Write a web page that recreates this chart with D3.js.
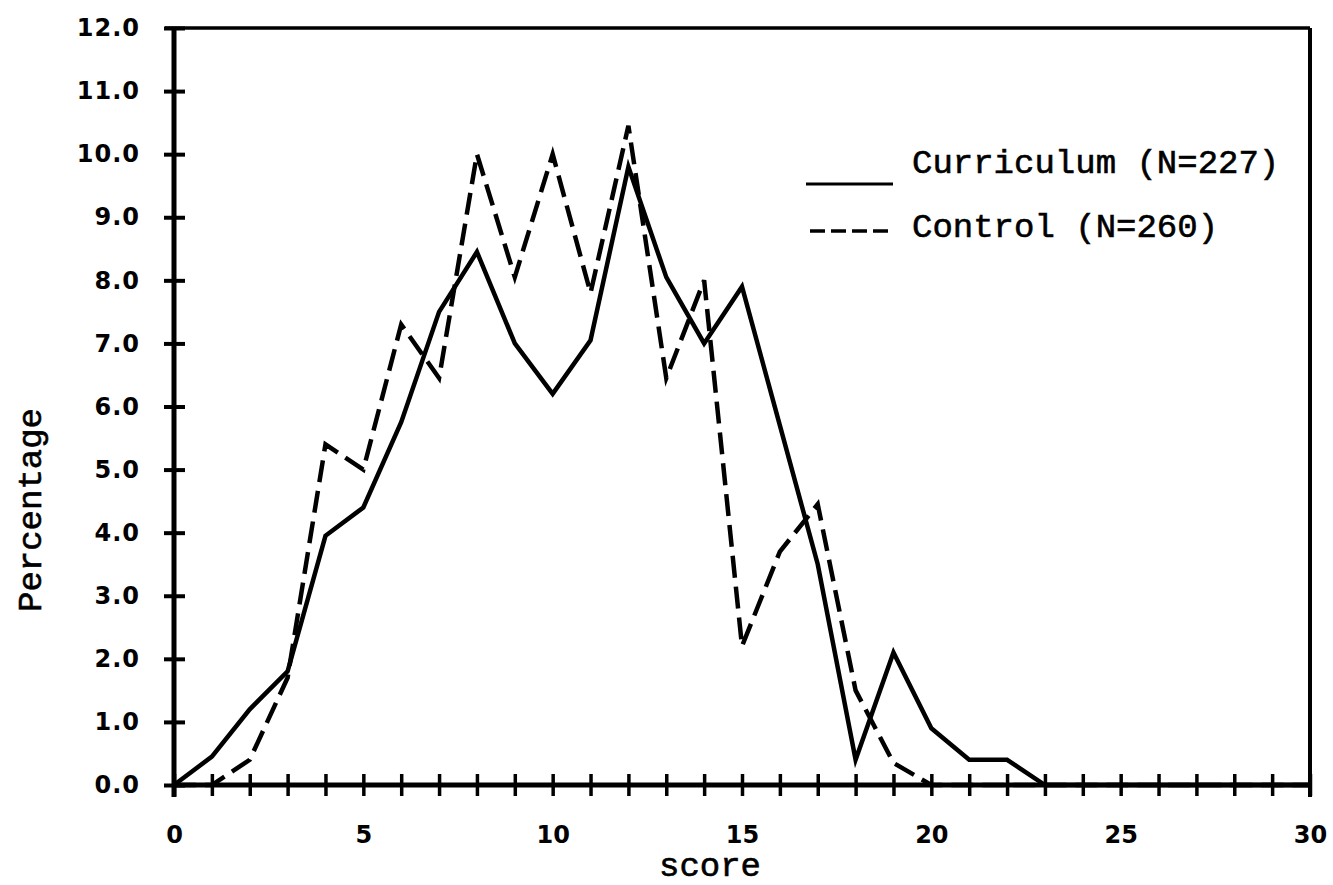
<!DOCTYPE html>
<html>
<head>
<meta charset="utf-8">
<script src="https://cdn.jsdelivr.net/npm/d3@7"></script>
<style>
  body { margin: 0; background: #fff; }
  .tick text { font-family: "DejaVu Sans", sans-serif; font-weight: bold; fill: #000; }
  .mono { font-family: "Liberation Mono", monospace; fill: #000; stroke: #000; stroke-width: 0.6px; }
</style>
</head>
<body>
<script>
var w = 1333;
var h = 885;
var margin = { top: 28, right: 23, bottom: 100, left: 174 };
var width = w - margin.left - margin.right;
var height = h - margin.top - margin.bottom;

// score values along the x axis
var scores = [0, 1, 2, 3, 4, 5, 6, 7, 8, 9, 10, 11, 12, 13, 14, 15,
              16, 17, 18, 19, 20, 21, 22, 23, 24, 25, 26, 27, 28, 29, 30];
// percentage of each group at each score
var curriculum = [0, 0.45, 1.2, 1.8, 3.95, 4.4, 5.75, 7.5, 8.45, 7.0, 6.2, 7.05, 9.8, 8.05, 7.0, 7.9,
                  5.7, 3.5, 0.4, 2.1, 0.9, 0.4, 0.4, 0, 0, 0, 0, 0, 0, 0, 0];
var control = [0, 0, 0.4, 1.7, 5.4, 5.0, 7.3, 6.45, 10.0, 8.05, 10.0, 7.8, 10.45, 6.45, 8.0, 2.2,
               3.7, 4.45, 1.5, 0.35, 0, 0, 0, 0, 0, 0, 0, 0, 0, 0, 0];
var yTicks = [0, 1, 2, 3, 4, 5, 6, 7, 8, 9, 10, 11, 12];
var xLabels = [0, 5, 10, 15, 20, 25, 30];
var legendNames = ['Curriculum (N=227)', 'Control (N=260)'];

var svg = d3.select('body').append('svg')
            .attr('width', w)
            .attr('height', h);
var chart = svg.append('g')
               .attr('transform', 'translate(' + margin.left + ',' + margin.top + ')');

var x = d3.scaleLinear().domain([0, 30]).range([0, width]);
var y = d3.scaleLinear().domain([0, 12]).range([height, 0]);

// frame: top and right edges
chart.append('line')
     .attr('x1', -9).attr('x2', width)
     .attr('y1', 0).attr('y2', 0)
     .attr('stroke', '#000').attr('stroke-width', 3.5);
chart.append('line')
     .attr('x1', width).attr('x2', width)
     .attr('y1', 0).attr('y2', height + 12)
     .attr('stroke', '#000').attr('stroke-width', 4);

var xAxis = d3.axisBottom(x)
              .tickValues(scores)
              .tickSize(11)
              .tickPadding(30)
              .tickFormat(function(d){
                return xLabels.indexOf(d) >= 0 ? d : '';
              });
var yAxis = d3.axisLeft(y)
              .tickValues(yTicks)
              .tickSize(10)
              .tickPadding(24)
              .tickFormat(d3.format('.1f'));

var gx = chart.append('g')
              .attr('transform', 'translate(0,' + height + ')')
              .call(xAxis);
gx.select('.domain').attr('stroke-width', 5);
gx.selectAll('.tick line').attr('y1', -11).attr('stroke-width', 3.5);
gx.selectAll('.tick text').style('font-size', '24px');

var gy = chart.append('g').call(yAxis);
gy.select('.domain').attr('stroke-width', 5);
gy.selectAll('.tick line').attr('x1', 11).attr('stroke-width', 4);
gy.selectAll('.tick text').style('font-size', '24px').style('letter-spacing', '1px');
gx.select('.domain').attr('d', 'M0,0H' + width);
gy.select('.domain').attr('d', 'M0,' + (height + 12) + 'V0');

var line = d3.line()
             .x(function(d, i){ return x(scores[i]); })
             .y(function(d){ return y(d); });

chart.append('path')
     .datum(curriculum)
     .attr('d', line)
     .attr('fill', 'none')
     .attr('stroke', '#000')
     .attr('stroke-width', 4.5)
     .attr('stroke-linejoin', 'miter');

chart.append('path')
     .datum(control)
     .attr('d', line)
     .attr('fill', 'none')
     .attr('stroke', '#000')
     .attr('stroke-width', 4.5)
     .attr('stroke-dasharray', '22,9');

// legend
var legend = svg.append('g').attr('transform', 'translate(806,0)');
legend.append('line')
      .attr('x1', 0).attr('x2', 87)
      .attr('y1', 184).attr('y2', 184)
      .attr('stroke', '#000').attr('stroke-width', 3);
legend.append('line')
      .attr('x1', 4).attr('x2', 82)
      .attr('y1', 231).attr('y2', 231)
      .attr('stroke', '#000').attr('stroke-width', 3.5)
      .attr('stroke-dasharray', '15,6');
legend.selectAll('.legText')
      .data(legendNames)
      .enter()
      .append('text')
      .classed('legText mono', true)
      .attr('x', 106)
      .attr('y', function(d, i){ return 173 + i * 64; })
      .style('font-size', '34px')
      .text(function(d){ return d; });

// axis titles
svg.append('text')
   .classed('mono', true)
   .attr('x', 710)
   .attr('y', 876)
   .attr('text-anchor', 'middle')
   .style('font-size', '34px')
   .text('score');
svg.append('text')
   .classed('mono', true)
   .attr('transform', 'translate(41,510) rotate(-90)')
   .attr('text-anchor', 'middle')
   .style('font-size', '34px')
   .text('Percentage');
</script>
</body>
</html>
